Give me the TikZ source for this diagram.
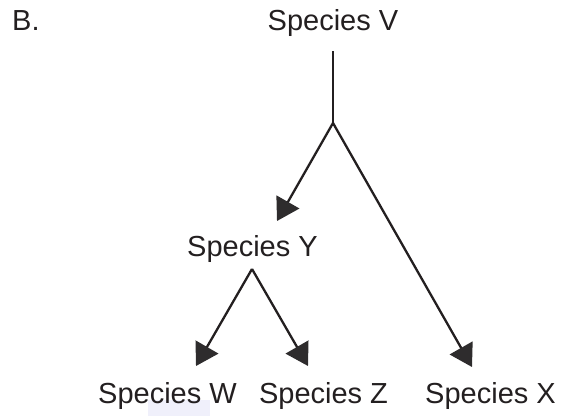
\documentclass[tikz,border=0pt]{standalone}
\usepackage{fontspec}
\setmainfont{Liberation Sans}
\usetikzlibrary{arrows.meta}
\definecolor{ink}{HTML}{231F20}
\definecolor{headc}{HTML}{2E2C2D}
\definecolor{wmark}{HTML}{F0F0FB}
\tikzset{
  lbl/.style={anchor=base, inner sep=0pt, text=ink, font=\fontsize{29}{31}\selectfont},
  link/.style={draw=ink, line width=2.3pt},
  arr/.style={link, -{Triangle[length=22pt, width=26pt, fill=headc, color=headc]}}
}
\begin{document}
\begin{tikzpicture}[x=1pt, y=-1pt]
\useasboundingbox (0,0) rectangle (561,416);
\fill[wmark] (148,400) rectangle (210,416);
\node[lbl, anchor=base west] (B) at (12,30) {B.};
\node[lbl] (V) at (333,30.5) {Species V};
\node[lbl] (Y) at (252.5,256.5) {Species Y};
\node[lbl] (W) at (167.5,403.5) {Species W};
\node[lbl] (Z) at (323.5,403.5) {Species Z};
\node[lbl] (X) at (490.5,403.5) {Species X};
\coordinate (vtop) at (333,51);
\coordinate (fork) at (333,123);
\coordinate (yfork) at (252,269);
\coordinate (tipY) at (277,221);
\coordinate (tipX) at (472,367);
\coordinate (tipW) at (196,366);
\coordinate (tipZ) at (308,366);
\draw[link] (vtop) -- (fork);
\draw[arr] (fork) -- (tipY);
\draw[arr] (fork) -- (tipX);
\draw[arr] (yfork) -- (tipW);
\draw[arr] (yfork) -- (tipZ);
\end{tikzpicture}
\end{document}
